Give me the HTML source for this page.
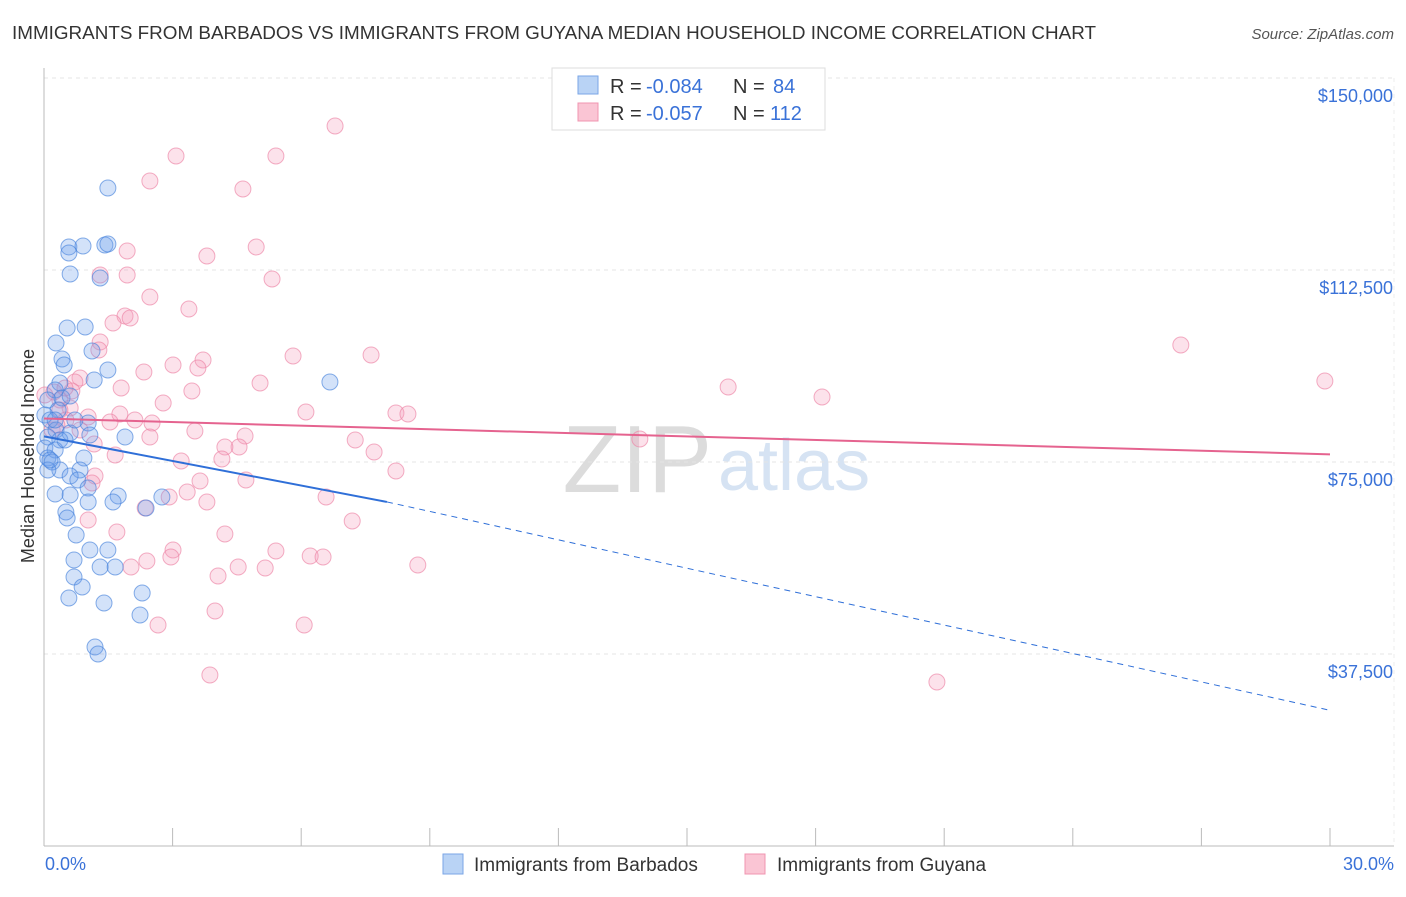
<!DOCTYPE html>
<html><head><meta charset="utf-8"><style>
body{margin:0;background:#fff;font-family:"Liberation Sans",sans-serif;}
svg text{font-family:"Liberation Sans",sans-serif;}
</style></head><body>
<svg id="c" width="1406" height="892">
<text x="12" y="39" font-size="18" fill="#333" textLength="1084" lengthAdjust="spacingAndGlyphs">IMMIGRANTS FROM BARBADOS VS IMMIGRANTS FROM GUYANA MEDIAN HOUSEHOLD INCOME CORRELATION CHART</text>
<text x="1394" y="39" font-size="15" fill="#555" font-style="italic" text-anchor="end">Source: ZipAtlas.com</text>
<text x="712" y="492" font-size="96" fill="#dcdcdc" font-family="Liberation Serif" text-anchor="end">ZIP</text>
<text x="718" y="490" font-size="72" fill="#d6e3f3">atlas</text>
<text transform="translate(34,456) rotate(-90)" font-size="18" fill="#333" text-anchor="middle">Median Household Income</text>
<g id="grid"></g><g id="pts"></g><g id="lines"></g>
<g>
<rect x="552" y="68" width="273" height="62" fill="#fff" stroke="#ddd"/>
<rect x="578" y="76" width="20" height="18" fill="#b9d3f5" stroke="#7aa6e6"/>
<rect x="578" y="103" width="20" height="18" fill="#fac5d4" stroke="#f095b0"/>
<text y="93" font-size="20" fill="#333"><tspan x="610">R =</tspan><tspan x="646" fill="#3a72d8">-0.084</tspan><tspan x="733">N =</tspan><tspan x="773" fill="#3a72d8">84</tspan></text>
<text y="120" font-size="20" fill="#333"><tspan x="610">R =</tspan><tspan x="646" fill="#3a72d8">-0.057</tspan><tspan x="733">N =</tspan><tspan x="770" fill="#3a72d8">112</tspan></text>
</g>
<g>
<rect x="443" y="854" width="20" height="20" fill="#b9d3f5" stroke="#7aa6e6"/>
<text x="474" y="871" font-size="19" fill="#333">Immigrants from Barbados</text>
<rect x="745" y="854" width="20" height="20" fill="#fac5d4" stroke="#f095b0"/>
<text x="777" y="871" font-size="19" fill="#333">Immigrants from Guyana</text>
</g>
</svg>
<script>
const yTicks=[37500,75000,112500,150000];
const yTickLabels=["$37,500","$75,000","$112,500","$150,000"];
const xTickLabels=["0.0%","30.0%"];
const bluePx=[[108,188],[69,247],[83,246],[105,245],[108,244],[69,253],[70,274],[100,278],[67,328],[85,327],[56,343],[62,359],[64,365],[92,351],[108,370],[94,380],[60,383],[330,382],[55,390],[48,400],[62,398],[70,396],[58,410],[45,415],[50,420],[88,423],[56,430],[70,433],[125,437],[48,437],[60,440],[45,448],[55,450],[48,458],[52,462],[84,458],[60,470],[80,470],[70,476],[78,480],[88,488],[55,494],[70,495],[118,496],[113,502],[146,508],[88,502],[162,497],[66,512],[67,518],[76,535],[90,550],[108,550],[74,560],[100,567],[115,567],[74,577],[82,587],[69,598],[104,603],[142,593],[140,615],[95,647],[98,654],[48,470],[50,460],[65,440],[75,420],[90,435],[55,420]];
const pinkPx=[[335,126],[176,156],[276,156],[150,181],[243,189],[256,247],[127,251],[207,256],[100,275],[127,275],[272,279],[150,297],[189,309],[125,316],[113,323],[130,318],[100,342],[99,350],[293,356],[371,355],[203,360],[173,365],[144,372],[198,368],[80,378],[75,382],[260,383],[121,388],[192,391],[54,392],[72,391],[728,387],[1325,381],[1181,345],[822,397],[60,400],[163,403],[70,408],[306,412],[396,413],[408,414],[120,414],[88,417],[135,420],[152,423],[110,422],[195,431],[355,440],[374,452],[245,436],[239,447],[150,437],[225,447],[640,439],[94,444],[115,455],[222,459],[181,461],[396,471],[246,480],[200,481],[95,476],[92,483],[187,492],[326,497],[169,497],[207,502],[145,508],[88,520],[352,521],[117,532],[225,534],[173,550],[276,551],[310,556],[323,557],[171,557],[147,561],[418,565],[238,567],[265,568],[131,567],[218,576],[215,611],[158,625],[304,625],[210,675],[937,682],[60,410],[66,420],[52,430],[80,430],[45,395],[65,388],[57,425]];
const blueX=bluePx.map(p=>+((p[0]-44)*30/1286).toFixed(2));
const blueY=bluePx.map(p=>Math.round((846-p[1])*37500/192));
const pinkX=pinkPx.map(p=>+((p[0]-44)*30/1286).toFixed(2));
const pinkY=pinkPx.map(p=>Math.round((846-p[1])*37500/192));
const blueTrend=[[0,80000],[8,67200],[30,26500]];
const pinkTrend=[[0,83500],[30,76500]];
const X=v=>44+v*1286/30, Y=v=>846-v*192/37500;
const NS="http://www.w3.org/2000/svg";
function mk(t,a,p){const e=document.createElementNS(NS,t);for(const k in a)e.setAttribute(k,a[k]);p.appendChild(e);return e;}
const g=document.getElementById('grid');
yTicks.forEach((v,i)=>{
 const l=mk('line',{x1:44,x2:1394,y1:Y(v),y2:Y(v),stroke:'#e4e4e4','stroke-dasharray':'4,4'},g);
 
 
 const t=mk('text',{x:1393,y:Y(v)+24,'font-size':18,fill:'#3a72d8','text-anchor':'end'},g);t.textContent=yTickLabels[i];
 
 
});
mk('line',{x1:1394,x2:1394,y1:Y(150000),y2:846,stroke:'#eee','stroke-dasharray':'4,4'},g);
mk('line',{x1:44,x2:44,y1:68,y2:846,stroke:'#bbb'},g);
mk('line',{x1:44,x2:1394,y1:846,y2:846,stroke:'#bbb'},g);
for(let i=0;i<=10;i++){const tk=mk('line',{x1:X(i*3),x2:X(i*3),y1:828,y2:846,stroke:'#bbb'},g);
 
 }
[[0,'start',45],[30,'end',1394]].forEach((d,i)=>{const t=mk('text',{x:d[2],y:870,'font-size':18,fill:'#3a72d8','text-anchor':d[1]},g);t.textContent=xTickLabels[i];
 
 });
const P=document.getElementById('pts');
pinkX.forEach((x,i)=>{const c=mk('circle',{cx:X(x),cy:Y(pinkY[i]),r:8,fill:'rgba(246,160,188,0.3)',stroke:'rgba(236,130,165,0.65)','stroke-width':1},P);
 
 });
blueX.forEach((x,i)=>{const c=mk('circle',{cx:X(x),cy:Y(blueY[i]),r:8,fill:'rgba(110,160,235,0.3)',stroke:'rgba(70,130,220,0.65)','stroke-width':1},P);
 
 });
const L=document.getElementById('lines');
const b1=mk('line',{x1:X(blueTrend[0][0]),y1:Y(blueTrend[0][1]),x2:X(blueTrend[1][0]),y2:Y(blueTrend[1][1]),stroke:'#2f6fd8','stroke-width':2},L);


const b2=mk('line',{x1:X(blueTrend[1][0]),y1:Y(blueTrend[1][1]),x2:X(blueTrend[2][0]),y2:Y(blueTrend[2][1]),stroke:'#2f6fd8','stroke-width':1,'stroke-dasharray':'6,5'},L);


const p1=mk('line',{x1:X(pinkTrend[0][0]),y1:Y(pinkTrend[0][1]),x2:X(pinkTrend[1][0]),y2:Y(pinkTrend[1][1]),stroke:'#e5638f','stroke-width':2},L);


</script>
</body></html>
